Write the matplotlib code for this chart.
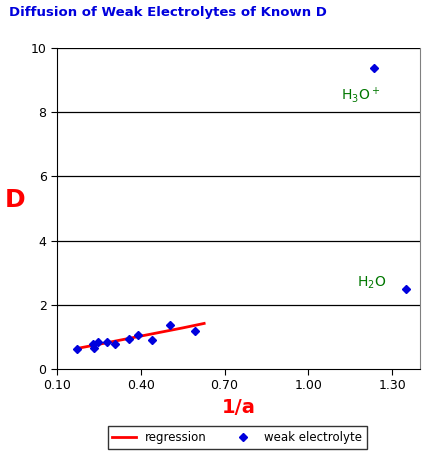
import matplotlib
matplotlib.use('Agg')
import matplotlib.pyplot as plt

# weak electrolytes: 1/a vs D
inv_a = [0.172, 0.229, 0.233, 0.247, 0.279, 0.308, 0.358, 0.390, 0.440, 0.505, 0.595, 1.235, 1.35]
diff_d = [0.61, 0.77, 0.64, 0.83, 0.83, 0.78, 0.92, 1.05, 0.89, 1.36, 1.17, 9.38, 2.49]

# regression curve
reg_x = [0.172, 0.25, 0.35, 0.45, 0.55, 0.627]
reg_y = [0.64, 0.77, 0.94, 1.11, 1.28, 1.42]

labels = [('H$_3$O$^+$', 1.235, 9.38), ('H$_2$O', 1.35, 2.49)]


def main():
    fig = plt.figure(figsize=(4.31, 4.59), dpi=100)
    ax = fig.add_axes([57 / 431, 1 - 369 / 459, 363 / 431, 321 / 459])

    for y in [2, 4, 6, 8, 10]:
        ax.axhline(y, color='black', lw=0.9, zorder=1)
    ax.plot(reg_x, reg_y, color='red', lw=2, label='regression', zorder=2)
    ax.plot(inv_a, diff_d, 'D', color='#0000dd', ms=4.5, ls='none',
            label='weak electrolyte', zorder=3)
    ax.annotate(labels[0][0], (labels[0][1], labels[0][2]), xytext=(-24, -23),
                textcoords='offset points', color='#007700', fontsize=10)
    ax.annotate(labels[1][0], (labels[1][1], labels[1][2]), xytext=(-35, 2),
                textcoords='offset points', color='#007700', fontsize=10)

    ax.set_xlim(0.1, 1.4)
    ax.set_ylim(0, 10)
    ax.set_xticks([0.10, 0.40, 0.70, 1.00, 1.30])
    ax.set_xticklabels(['0.10', '0.40', '0.70', '1.00', '1.30'])
    ax.set_yticks([0, 2, 4, 6, 8, 10])
    ax.tick_params(labelsize=9, length=4)
    ax.spines['top'].set_visible(False)
    ax.spines['right'].set_color('gray')

    ax.set_xlabel('1/a', color='red', fontsize=14, fontweight='bold')
    ax.set_ylabel('D', color='red', fontsize=18, fontweight='bold', rotation=0, labelpad=12)
    ax.yaxis.set_label_coords(-0.115, 0.49)
    fig.text(0.02, 0.965, 'Diffusion of Weak Electrolytes of Known D', color='#0000dd',
             fontsize=9.5, fontweight='bold')
    fig.legend(loc='lower center', bbox_to_anchor=(0.55, 0.01), ncol=2, fontsize=8.5,
               frameon=True, fancybox=False, edgecolor='black')

    fig.savefig('out.png', dpi=100)


if __name__ == '__main__':
    main()
